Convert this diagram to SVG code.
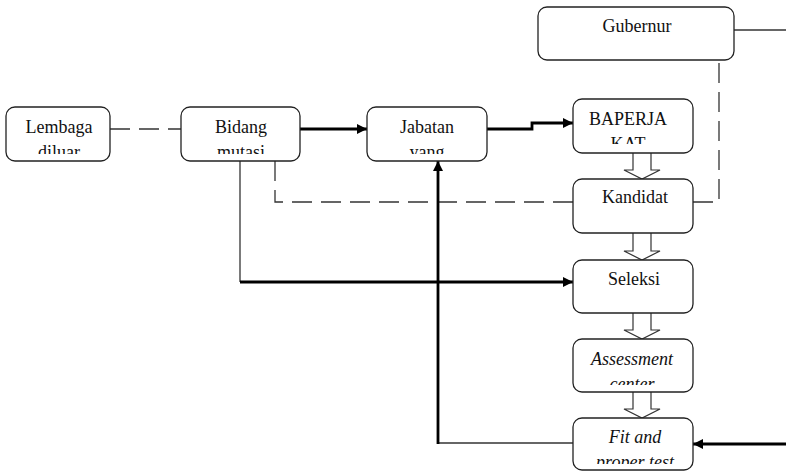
<svg xmlns="http://www.w3.org/2000/svg" width="786" height="474" viewBox="0 0 786 474">
<style>
.box{fill:#fff;stroke:#222;stroke-width:1.3}
.t{font-family:"Liberation Serif","Times New Roman",serif;font-size:18px;fill:#111;text-anchor:middle}
.i{font-style:italic}
.thin{fill:none;stroke:#333;stroke-width:1.3}
.thick{fill:none;stroke:#000;stroke-width:2.8}
.dash{fill:none;stroke:#333;stroke-width:1.3;stroke-dasharray:20 9}
.blk{fill:#fff;stroke:#333;stroke-width:1.2}
</style>
<defs>
<marker id="ah" viewBox="0 0 10 10" refX="10" refY="5" markerWidth="11" markerHeight="10" markerUnits="userSpaceOnUse" orient="auto">
<path d="M0,0 L10,5 L0,10 z" fill="#000"/>
</marker>
<clipPath id="c1"><rect x="6" y="107" width="104" height="47"/></clipPath>
<clipPath id="c2"><rect x="181" y="107" width="119" height="47"/></clipPath>
<clipPath id="c3"><rect x="367" y="107" width="120" height="47"/></clipPath>
<clipPath id="c4"><rect x="573" y="99" width="120" height="45"/></clipPath>
<clipPath id="c5"><rect x="573" y="339" width="120" height="46"/></clipPath>
<clipPath id="c6"><rect x="573" y="418" width="120" height="46"/></clipPath>
</defs>

<g id="connectors">
<path class="dash" d="M110,129 H181"/>
<path class="thick" d="M300,129 H367" marker-end="url(#ah)"/>
<path class="thick" d="M487,129 H532 V123 H573" marker-end="url(#ah)"/>
<path class="thin" d="M240,161 V282"/>
<path class="thick" d="M240,282 H573" marker-end="url(#ah)"/>
<path class="dash" d="M275,161 V202 H573"/>
<path class="dash" d="M693,202 H719 V60"/>
<path class="thin" d="M734,30 H786"/>
<path class="thin" d="M438,443 H573"/>
<path class="thick" d="M438,444 V161" marker-end="url(#ah)"/>
<path class="thick" d="M786,444 H693" marker-end="url(#ah)"/>
<path class="blk" d="M633,153 V170 H624 L642,179 L660,170 H651 V153"/>
<path class="blk" d="M633,233 V251 H624 L642,260 L660,251 H651 V233"/>
<path class="blk" d="M633,313 V330 H624 L642,339 L660,330 H651 V313"/>
<path class="blk" d="M633,392 V409 H624 L642,418 L660,409 H651 V392"/>
</g>

<g id="gubernur">
<rect class="box" x="538" y="7" width="196" height="53" rx="9"/>
<text class="t" x="637" y="32">Gubernur</text>
</g>
<g id="lembaga">
<rect class="box" x="6" y="107" width="104" height="54" rx="9"/>
<g clip-path="url(#c1)"><text class="t" x="59" y="133">Lembaga</text><text class="t" x="59" y="158">diluar</text></g>
</g>
<g id="bidang">
<rect class="box" x="181" y="107" width="119" height="54" rx="9"/>
<g clip-path="url(#c2)"><text class="t" x="241" y="133">Bidang</text><text class="t" x="241" y="158">mutasi</text></g>
</g>
<g id="jabatan">
<rect class="box" x="367" y="107" width="120" height="54" rx="9"/>
<g clip-path="url(#c3)"><text class="t" x="427" y="133">Jabatan</text><text class="t" x="427" y="158">yang</text></g>
</g>
<g id="baperjakat">
<rect class="box" x="573" y="99" width="120" height="54" rx="9"/>
<g clip-path="url(#c4)"><text class="t" x="628" y="125">BAPERJA</text><text class="t" x="628" y="150">KAT</text></g>
</g>
<g id="kandidat">
<rect class="box" x="573" y="179" width="120" height="54" rx="9"/>
<text class="t" x="635" y="203">Kandidat</text>
</g>
<g id="seleksi">
<rect class="box" x="573" y="260" width="120" height="53" rx="9"/>
<text class="t" x="634" y="285">Seleksi</text>
</g>
<g id="assessment">
<rect class="box" x="573" y="339" width="120" height="53" rx="9"/>
<g clip-path="url(#c5)"><text class="t i" x="632" y="365">Assessment</text><text class="t i" x="632" y="390">center</text></g>
</g>
<g id="fit">
<rect class="box" x="573" y="418" width="120" height="52" rx="9"/>
<g clip-path="url(#c6)"><text class="t i" x="635" y="443">Fit and</text><text class="t i" x="635" y="468">proper test</text></g>
</g>
</svg>
